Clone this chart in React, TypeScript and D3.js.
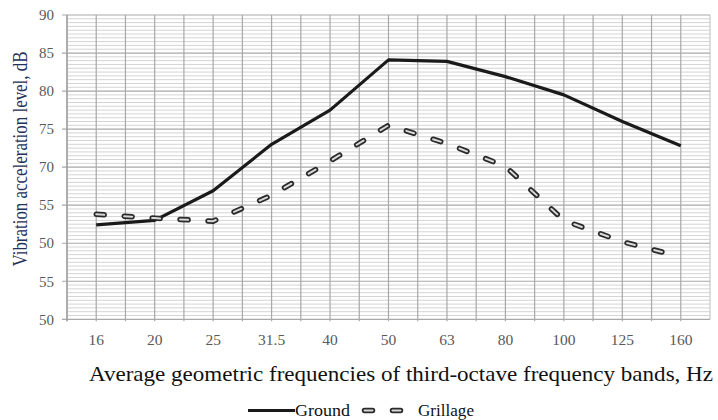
import React from "react";
import * as d3 from "d3";

const categories = ["16", "20", "25", "31.5", "40", "50", "63", "80", "100", "125", "160"];
const groundValues = [62.4, 63.0, 66.9, 73.0, 77.5, 84.1, 83.9, 81.9, 79.5, 76.0, 72.8];
const grillageValues = [63.8, 63.3, 62.9, 66.3, 70.8, 75.5, 73.1, 70.1, 63.0, 60.2, 58.2];
const yTickValues = [90, 85, 80, 75, 70, 65, 60, 55, 50];
const yTickLabels = ["90", "85", "80", "75", "70", "55", "50", "55", "50"];
const seriesNames = ["Ground", "Grillage"];
const yTitle = "Vibration acceleration level, dB";
const xTitle = "Average geometric frequencies of third-octave frequency bands, Hz";

const W = 718;
const H = 420;
const left = 67;
const right = 710;
const top = 15;
const bottom = 319.3;
const font = "'Liberation Serif', 'DejaVu Serif', 'Times New Roman', Times, serif";

export default function App() {
  const x = d3.scaleBand<string>().domain(categories).range([left, right]).padding(0);
  const y = d3.scaleLinear().domain([50, 90]).range([bottom, top]);
  const bw = x.bandwidth();
  const cx = (c: string) => (x(c) as number) + bw / 2;

  const line = d3
    .line<[string, number]>()
    .x((d) => cx(d[0]))
    .y((d) => y(d[1]));

  const groundPath = line(categories.map((c, i) => [c, groundValues[i]] as [string, number])) || "";
  const grillPath = line(categories.map((c, i) => [c, grillageValues[i]] as [string, number])) || "";

  const minorTicks = d3.range(50, 90.001, 0.5).filter((v) => Math.abs(v % 5) > 1e-6);
  const vLines: number[] = [];
  categories.forEach((c) => {
    vLines.push(x(c) as number);
    vLines.push(cx(c));
  });

  const ts = { fontFamily: font };

  return (
    <svg
      width={W}
      height={H}
      style={{ position: "absolute", left: 0, top: 0, background: "#fff", fontFamily: font }}
    >
      <rect x={0} y={0} width={W} height={H} fill="#fff" />
      {minorTicks.map((v) => (
        <line key={"mn" + v} x1={left} x2={right} y1={y(v)} y2={y(v)} stroke="#d4d4d4" strokeWidth={1} />
      ))}
      {vLines.map((vx, i) => (
        <line key={"v" + i} x1={vx} x2={vx} y1={top} y2={bottom + 2} stroke="#a8a8a8" strokeWidth={1.2} />
      ))}
      <line x1={right} x2={right} y1={top} y2={bottom} stroke="#c8c8c8" strokeWidth={1.2} />
      {yTickValues.map((v) => (
        <line key={"mj" + v} x1={left - 5} x2={right} y1={y(v)} y2={y(v)} stroke="#a8a8a8" strokeWidth={1.2} />
      ))}
      <line x1={left} x2={left} y1={top} y2={bottom + 2} stroke="#9a9a9a" strokeWidth={1.2} />

      {yTickValues.map((v, i) => (
        <text key={"yl" + v} x={54} y={y(v)} dy="0.35em" textAnchor="end" fontSize={15} fill="#595959" style={ts}>
          {yTickLabels[i]}
        </text>
      ))}
      {categories.map((c) => (
        <text key={"xl" + c} x={cx(c)} y={339.5} dy="0.35em" textAnchor="middle" fontSize={15.5} fill="#595959" style={ts}>
          {c}
        </text>
      ))}

      <path d={groundPath} fill="none" stroke="#1a1a1a" strokeWidth={3.2} strokeLinejoin="round" />
      <path d={grillPath} fill="none" stroke="#2a2a2a" strokeWidth={5.5} strokeDasharray="8 20" strokeLinecap="round" strokeLinejoin="round" />
      <path d={grillPath} fill="none" stroke="#d8d8d8" strokeWidth={2} strokeDasharray="8 20" strokeLinecap="round" strokeLinejoin="round" />

      <text
        transform={`translate(20,159) rotate(-90)`}
        textAnchor="middle"
        dy="0.35em"
        fontSize={20}
        fill="#22305a"
        textLength={215}
        lengthAdjust="spacingAndGlyphs"
        style={ts}
      >
        {yTitle}
      </text>
      <text
        x={89}
        y={373}
        dy="0.35em"
        fontSize={22}
        fill="#111"
        textLength={624}
        lengthAdjust="spacingAndGlyphs"
        style={ts}
      >
        {xTitle}
      </text>

      <line x1={248} x2={295} y1={410.5} y2={410.5} stroke="#1a1a1a" strokeWidth={3.2} />
      <text x={295} y={410} dy="0.35em" fontSize={17} fill="#111" textLength={55} lengthAdjust="spacingAndGlyphs" style={ts}>
        {seriesNames[0]}
      </text>
      <line x1={364.5} x2={400.5} y1={410.5} y2={410.5} stroke="#2a2a2a" strokeWidth={5.5} strokeDasharray="8 20" strokeLinecap="round" />
      <line x1={364.5} x2={400.5} y1={410.5} y2={410.5} stroke="#d8d8d8" strokeWidth={2} strokeDasharray="8 20" strokeLinecap="round" />
      <text x={418} y={410} dy="0.35em" fontSize={17} fill="#111" textLength={56} lengthAdjust="spacingAndGlyphs" style={ts}>
        {seriesNames[1]}
      </text>
    </svg>
  );
}
